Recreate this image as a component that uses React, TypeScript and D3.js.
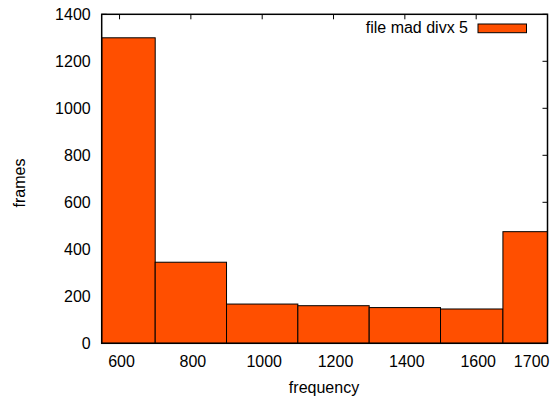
import { useRef, useEffect } from 'react';
import * as d3 from 'd3';

// histogram bins (frequency) and frame counts
const binStarts = [550, 700, 900, 1100, 1300, 1500, 1675];
const binEnds = [700, 900, 1100, 1300, 1500, 1675, 1800];
const frames = [1300, 345, 167, 160, 152, 146, 475];

// x tick labels and where they sit
const xTickLabels = ['600', '800', '1000', '1200', '1400', '1600', '1700'];
const xTickValues = [600, 800, 1000, 1200, 1400, 1600, 1750];
const yTickValues = [0, 200, 400, 600, 800, 1000, 1200, 1400];

const seriesName = 'file mad divx 5';

function App() {

    const svgRef = useRef<SVGSVGElement>(null);

    useEffect(() => {

        //Dimension
        const width = 558;
        const height = 401;
        const left = 101.7;
        const right = 547.5;
        const top = 14.3;
        const bottom = 343.3;
        const fill = '#ff4f00';
        const font = '"Liberation Sans", Arial, sans-serif';
        const fontSize = 16;

        if (!svgRef.current) return;
        const svg = d3.select(svgRef.current)
            .attr('width', width)
            .attr('height', height)
            .attr('viewBox', [0, 0, width, height].join(' '));

        //Clear previous content
        svg.selectAll('*').remove();

        svg.append('rect')
            .attr('width', width)
            .attr('height', height)
            .attr('fill', 'white');

        const x = d3.scaleLinear().domain([550, 1800]).range([left, right]);
        const y = d3.scaleLinear().domain([0, 1400]).range([bottom, top]);

        //Tick marks (inside), drawn below the bars
        const ticks = svg.append('g').attr('stroke', 'black').attr('stroke-width', 1);
        yTickValues.forEach((v) => {
            ticks.append('line').attr('x1', left).attr('x2', left + 5).attr('y1', y(v)).attr('y2', y(v));
            ticks.append('line').attr('x1', right).attr('x2', right - 5).attr('y1', y(v)).attr('y2', y(v));
        });
        xTickValues.slice(0, 6).forEach((v) => {
            ticks.append('line').attr('x1', x(v)).attr('x2', x(v)).attr('y1', bottom).attr('y2', bottom - 5);
            ticks.append('line').attr('x1', x(v)).attr('x2', x(v)).attr('y1', top).attr('y2', top + 5);
        });

        //Bars
        svg.append('g')
            .selectAll('rect')
            .data(frames)
            .join('rect')
            .attr('x', (_, i) => x(binStarts[i]))
            .attr('width', (_, i) => x(binEnds[i]) - x(binStarts[i]))
            .attr('y', (d) => y(d))
            .attr('height', (d) => y(0) - y(d))
            .attr('fill', fill)
            .attr('stroke', 'black')
            .attr('stroke-width', 1);

        //Border
        svg.append('rect')
            .attr('x', left)
            .attr('y', top)
            .attr('width', right - left)
            .attr('height', bottom - top)
            .attr('fill', 'none')
            .attr('stroke', 'black')
            .attr('stroke-width', 1.5);

        //Tick labels
        const labels = svg.append('g')
            .attr('font-family', font)
            .attr('font-size', fontSize)
            .attr('fill', 'black');

        yTickValues.forEach((v) => {
            labels.append('text')
                .attr('x', left - 11)
                .attr('y', y(v))
                .attr('dy', '0.36em')
                .attr('text-anchor', 'end')
                .text(v);
        });

        xTickLabels.forEach((t, i) => {
            labels.append('text')
                .attr('x', x(xTickValues[i]) + 2)
                .attr('y', 367)
                .attr('text-anchor', 'middle')
                .text(t);
        });

        //Axis titles
        labels.append('text')
            .attr('x', 324)
            .attr('y', 393)
            .attr('text-anchor', 'middle')
            .text('frequency');

        labels.append('text')
            .attr('transform', 'translate(25,183) rotate(-90)')
            .attr('text-anchor', 'middle')
            .text('frames');

        //Legend
        labels.append('text')
            .attr('x', 468)
            .attr('y', 33)
            .attr('text-anchor', 'end')
            .text(seriesName);

        svg.append('rect')
            .attr('x', 478)
            .attr('y', 24)
            .attr('width', 48.5)
            .attr('height', 8.7)
            .attr('fill', fill)
            .attr('stroke', 'black')
            .attr('stroke-width', 1);
    }, []);

    return (
        <svg
            ref={svgRef}
            style={{ position: 'absolute', left: 0, top: 0, display: 'block' }}
        />
    );
}

export default App;
